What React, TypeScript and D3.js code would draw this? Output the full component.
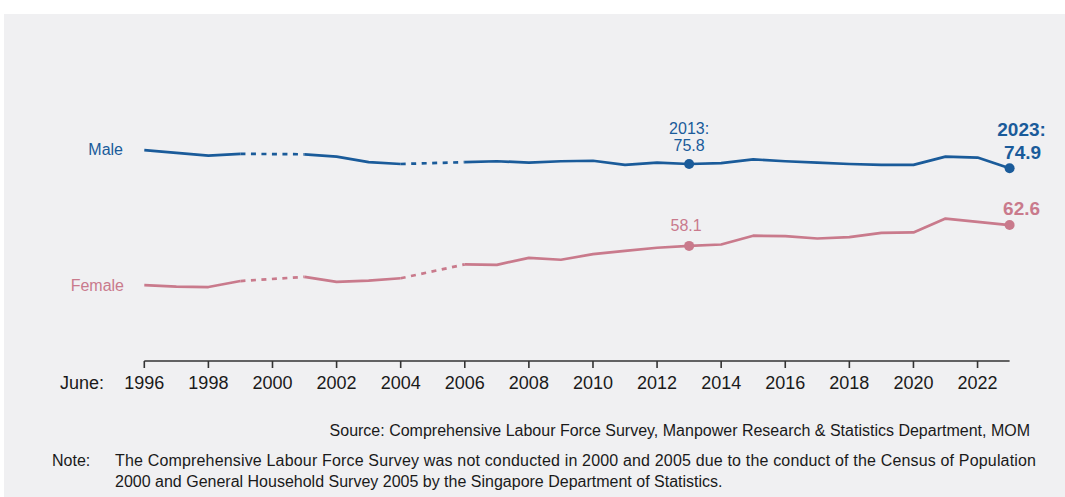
import React from "react";
import * as d3 from "d3";

const years = [1996,1997,1998,1999,2000,2001,2002,2003,2004,2005,2006,2007,2008,2009,2010,2011,2012,2013,2014,2015,2016,2017,2018,2019,2020,2021,2022,2023];
// null = survey not conducted (2000, 2005)
const maleRate: (number | null)[] = [78.8,78.2,77.6,78.0,null,77.9,77.4,76.2,75.8,null,76.2,76.4,76.1,76.4,76.5,75.6,76.1,75.8,76.0,76.8,76.4,76.1,75.8,75.6,75.6,77.4,77.2,74.9];
const femaleRate: (number | null)[] = [49.6,49.3,49.2,50.5,null,51.4,50.3,50.6,51.1,null,54.1,54.0,55.5,55.1,56.3,57.0,57.7,58.1,58.4,60.3,60.2,59.7,60.0,60.9,61.0,64.0,63.3,62.6];
const tickYears = [1996,1998,2000,2002,2004,2006,2008,2010,2012,2014,2016,2018,2020,2022];

const MALE = "#1a5b9a";
const FEMALE = "#c97a8c";
const FONT = "'Liberation Sans', Arial, sans-serif";

export default function App() {
  const W = 1065, H = 497;
  const x = d3.scaleLinear().domain([1996, 2023]).range([144.3, 1009.6]);
  const y = d3.scaleLinear().domain([40, 85]).range([329.6, 121.45]);
  const axisY = 361;

  const series = (vals: (number | null)[]) => {
    const pts = years.map((yr, i) => ({ yr, v: vals[i] }));
    const line = d3.line<{ yr: number; v: number | null }>()
      .defined(d => d.v !== null)
      .x(d => x(d.yr))
      .y(d => y(d.v as number));
    const solid = line(pts) || "";
    const bridges: string[] = [];
    for (let i = 1; i < pts.length - 1; i++) {
      if (pts[i].v === null && pts[i - 1].v !== null && pts[i + 1].v !== null) {
        const l = d3.line<{ yr: number; v: number | null }>().x(d => x(d.yr)).y(d => y(d.v as number));
        bridges.push(l([pts[i - 1], pts[i + 1]]) || "");
      }
    }
    return { solid, bridges };
  };

  const m = series(maleRate);
  const f = series(femaleRate);
  const iy2013 = years.indexOf(2013);
  const iyLast = years.length - 1;

  return (
    <svg width={W} height={H} style={{ position: "absolute", left: 0, top: 0 }} fontFamily={FONT}>
      <rect x={0} y={0} width={W} height={H} fill="#ffffff" />
      <rect x={4} y={14} width={W - 4} height={H - 14} fill="#f0f0f2" />

      <path d={m.solid} fill="none" stroke={MALE} strokeWidth={2.7} strokeLinejoin="round" />
      {m.bridges.map((d, i) => (
        <path key={"mb" + i} d={d} fill="none" stroke={MALE} strokeWidth={2.7} strokeDasharray="5,5.5" />
      ))}
      <path d={f.solid} fill="none" stroke={FEMALE} strokeWidth={2.7} strokeLinejoin="round" />
      {f.bridges.map((d, i) => (
        <path key={"fb" + i} d={d} fill="none" stroke={FEMALE} strokeWidth={2.7} strokeDasharray="5,5.5" />
      ))}

      <circle cx={x(2013)} cy={y(maleRate[iy2013] as number)} r={5} fill={MALE} />
      <circle cx={x(2023)} cy={y(maleRate[iyLast] as number)} r={5} fill={MALE} />
      <circle cx={x(2013)} cy={y(femaleRate[iy2013] as number)} r={5} fill={FEMALE} />
      <circle cx={x(2023)} cy={y(femaleRate[iyLast] as number)} r={5} fill={FEMALE} />

      <text x={123} y={y(maleRate[0] as number) + 5} textAnchor="end" fontSize={16} fill={MALE}>Male</text>
      <text x={124} y={y(femaleRate[0] as number) + 6} textAnchor="end" fontSize={16} fill={FEMALE}>Female</text>

      <text x={x(2013)} y={y(maleRate[iy2013] as number) - 30} textAnchor="middle" fontSize={16} fill={MALE}>2013:</text>
      <text x={x(2013)} y={y(maleRate[iy2013] as number) - 13} textAnchor="middle" fontSize={16} fill={MALE}>{(maleRate[iy2013] as number).toFixed(1)}</text>
      <text x={x(2013) - 3} y={y(femaleRate[iy2013] as number) - 15} textAnchor="middle" fontSize={16} fill={FEMALE}>{(femaleRate[iy2013] as number).toFixed(1)}</text>
      <text x={x(2023) + 12} y={y(maleRate[iyLast] as number) - 32} textAnchor="middle" fontSize={19} fontWeight="bold" fill={MALE}>2023:</text>
      <text x={x(2023) + 13} y={y(maleRate[iyLast] as number) - 9} textAnchor="middle" fontSize={19} fontWeight="bold" fill={MALE}>{(maleRate[iyLast] as number).toFixed(1)}</text>
      <text x={x(2023) + 12} y={y(femaleRate[iyLast] as number) - 10} textAnchor="middle" fontSize={19} fontWeight="bold" fill={FEMALE}>{(femaleRate[iyLast] as number).toFixed(1)}</text>

      <line x1={x(1996)} x2={x(2023)} y1={axisY} y2={axisY} stroke="#333" strokeWidth={1.6} />
      {tickYears.map(t => (
        <g key={t}>
          <line x1={x(t)} x2={x(t)} y1={axisY} y2={axisY + 7} stroke="#333" strokeWidth={1.6} />
          <text x={x(t)} y={388.5} textAnchor="middle" fontSize={18} fill="#1a1a1a">{t}</text>
        </g>
      ))}
      <text x={60} y={388.5} fontSize={18} fill="#1a1a1a">June:</text>

      <text x={1030} y={435.5} textAnchor="end" fontSize={16} fill="#1a1a1a">Source: Comprehensive Labour Force Survey, Manpower Research &amp; Statistics Department, MOM</text>
      <text x={52} y={465.5} fontSize={16} fill="#1a1a1a">Note:</text>
      <text x={115} y={465.5} fontSize={16} fill="#1a1a1a" textLength={921} lengthAdjust="spacing">The Comprehensive Labour Force Survey was not conducted in 2000 and 2005 due to the conduct of the Census of Population</text>
      <text x={115} y={486.5} fontSize={16} fill="#1a1a1a">2000 and General Household Survey 2005 by the Singapore Department of Statistics.</text>
    </svg>
  );
}
